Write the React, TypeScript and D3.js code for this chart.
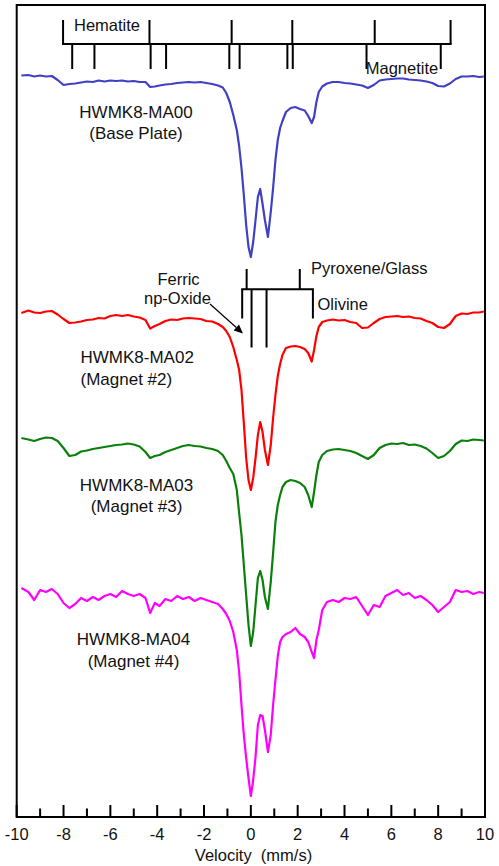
import React from "react";
import * as d3 from "d3";

// Velocity channels (mm/s)
const velocity = [
  -9.8, -9.5, -9.25, -9.0, -8.75, -8.5, -8.25, -8.0, -7.75, -7.5, -7.25, -7.0, -6.75, -6.5, -6.25, -6.0, -5.75, -5.5, -5.25, -5.0,
  -4.75, -4.5, -4.3, -4.1, -3.9, -3.65, -3.4, -3.15, -2.9, -2.65, -2.4, -2.15, -1.9, -1.65, -1.4, -1.2, -1.05, -0.9, -0.75, -0.6,
  -0.5, -0.4, -0.3, -0.2, -0.1, 0.0,
  0.1, 0.2, 0.3, 0.4, 0.5, 0.6, 0.73, 0.85, 0.95, 1.05, 1.15, 1.25,
  1.35, 1.5, 1.7, 1.9, 2.1, 2.3, 2.45, 2.6, 2.7, 2.8, 2.9, 3.05, 3.25, 3.5, 3.75, 4.0,
  4.25, 4.5, 4.75, 5.0, 5.25, 5.5, 5.75, 6.0, 6.25, 6.5, 6.75, 7.0, 7.25, 7.5, 7.75, 8.0, 8.25, 8.5, 8.75, 9.0, 9.25, 9.5, 9.75,
  9.95,
];

// Offset transmission (arbitrary units)
const ma00 = [
  741.5, 742, 740.5, 741.5, 740.5, 741, 737, 732, 733, 733.5, 734.5, 735.5, 735, 736.5, 735.5, 736.5, 736, 736.5, 735.5, 736,
  735, 735, 730, 730.5, 731.5, 732.5, 733, 734, 734.5, 735, 734.5, 735, 734, 733, 731.5, 729.5, 724, 715, 702, 687,
  671, 649, 622, 592, 570, 560,
  575, 597, 620, 628, 613, 597, 580, 605, 629, 657, 677, 689,
  696, 705, 709, 710, 708, 706.5, 701, 694, 700, 715, 725, 730.5, 733.5, 735, 735, 734,
  733.5, 732.5, 731.5, 729, 732, 736.5, 737.5, 738, 738.5, 738.5, 737.5, 737, 736.5, 735.5, 734, 731, 730.5, 733.5, 738, 740.5, 740.5, 741, 740,
  740.5,
];
const ma02 = [
  504, 506.5, 504.5, 504, 505.5, 506, 502.5, 498, 494, 494.5, 495.5, 497, 497.5, 499, 498.5, 501, 502, 501, 502, 500.5,
  499.5, 497, 488.5, 491, 493, 496, 497.5, 497, 498.5, 499, 498.5, 498, 496, 495.5, 493, 490, 486, 480, 470, 457,
  447, 427, 394, 359, 337, 327,
  339, 359, 382, 395, 385, 367, 352, 372, 399, 422, 441, 453,
  462, 469, 470.5, 471, 470, 468, 464, 455.5, 467, 481, 490, 495, 496.5, 497.5, 496.5, 497,
  495, 494, 489, 489.5, 494, 498, 500, 500.5, 501, 500, 500.5, 499, 498.5, 496, 494, 490, 489, 493, 501, 503.5, 503, 504.5, 504.5,
  505.5,
];
const ma03 = [
  379, 377.5, 376, 378, 379.5, 379, 376, 369, 361, 362, 365.5, 366.5, 368, 369, 370, 371, 372, 372.5, 373.5, 372.5,
  370.5, 365, 359, 361, 362, 365, 367, 369, 371, 372, 371, 370.5, 369, 368, 366, 362, 356, 349, 343, 327,
  304, 282, 252, 222, 192, 171,
  185, 212, 239, 246, 237, 220, 208, 235, 264, 295, 312, 322,
  330, 335, 337, 336, 334, 330, 322, 310, 325, 342, 355, 362, 366, 367.5, 368, 367,
  366, 364, 361, 358, 362, 369, 372, 373.5, 373, 374, 372, 372.5, 371, 368.5, 364, 359, 361, 366, 373, 376.5, 376, 377.5, 377,
  376.5,
];
const ma04 = [
  229, 225, 217, 227, 225, 228, 223, 214, 209, 213, 219, 216, 220, 217, 221, 223, 220, 226, 223, 221,
  223, 219, 204, 214, 211, 218, 216, 221, 218, 220, 216, 219, 217, 215, 213, 208, 203, 196, 185, 167,
  145, 112, 82, 59, 39, 21,
  37, 60, 92, 102, 101, 87, 65, 82, 112, 137, 161, 175,
  180, 183, 185, 189, 183, 180, 175, 165, 159, 177, 187, 207, 215, 217, 215, 219,
  218, 220, 211, 202, 212, 210, 221, 224, 227, 222, 224, 219, 221, 217, 212, 205, 210, 215, 227, 225, 226, 223, 225,
  224,
];

// Stick diagram line positions (mm/s)
const hematiteLines = [-8.02, -4.33, -0.82, 1.77, 5.29, 8.53];
const magnetiteLines = [-7.63, -6.68, -4.28, -3.62, -0.92, -0.48, 1.56, 1.79, 4.94, 8.11];
const pyroxeneLines = [-0.18, 2.09];
const olivineLines = [-0.37, 2.65];
const ferricLines = [0.03, 0.67];

const xTicksMajor = [-10, -8, -6, -4, -2, 0, 2, 4, 6, 8, 10];
const xTicksMinor = [-9, -7, -5, -3, -1, 1, 3, 5, 7, 9];

const spectra = [
  { name: "MA00", values: ma00, color: "#4040c4" },
  { name: "MA02", values: ma02, color: "#ff0000" },
  { name: "MA03", values: ma03, color: "#0a800a" },
  { name: "MA04", values: ma04, color: "#ff00ff" },
];

const W = 499;
const H = 866;
const L = 16.7;
const R = 485;
const T = 5;
const B = 817;

export default function App() {
  const x = d3.scaleLinear().domain([-10, 10]).range([L, R]);
  const y = d3.scaleLinear().domain([0, 812]).range([B, T]);
  const font = "'Liberation Sans', Arial, sans-serif";

  const mkLine = (vals: number[]) =>
    d3
      .line<number>()
      .x((_, i) => x(velocity[i]))
      .y((d) => y(d))
      .curve(d3.curveLinear)(vals.slice(0, velocity.length)) || "";

  const topBarY = 44;
  const bottomBarY = 289.3;

  // arrow
  const ax1 = 210, ay1 = 304, ax2 = 243, ay2 = 333.5;
  const ang = Math.atan2(ay2 - ay1, ax2 - ax1);
  const hl = 9, hw = 4;
  const bx = ax2 - hl * Math.cos(ang), by = ay2 - hl * Math.sin(ang);
  const head = `${ax2},${ay2} ${bx + hw * Math.sin(ang)},${by - hw * Math.cos(ang)} ${bx - hw * Math.sin(ang)},${by + hw * Math.cos(ang)}`;

  const txt = { fontFamily: font, fontSize: 16.5, fill: "#111" } as const;
  const lab = { fontFamily: font, fontSize: 17, fill: "#111" } as const;

  return (
    <svg width={W} height={H} style={{ position: "absolute", left: 0, top: 0, background: "#fff" }}>
      <rect x={0} y={0} width={W} height={H} fill="#fff" />
      {spectra.map((s) => (
        <path key={s.name} d={mkLine(s.values)} fill="none" stroke={s.color} strokeWidth={2.2} strokeLinejoin="round" />
      ))}
      <rect x={L} y={T} width={R - L} height={B - T} fill="none" stroke="#000" strokeWidth={2} />
      {xTicksMajor.map((t) => (
        <line key={"M" + t} x1={x(t)} x2={x(t)} y1={B} y2={B - 12} stroke="#000" strokeWidth={2} />
      ))}
      {xTicksMinor.map((t) => (
        <line key={"m" + t} x1={x(t)} x2={x(t)} y1={B} y2={B - 8.5} stroke="#000" strokeWidth={2} />
      ))}
      {xTicksMajor.map((t) => (
        <text key={"L" + t} x={x(t)} y={839.5} textAnchor="middle" {...txt}>
          {t}
        </text>
      ))}
      <text x={253.5} y={860.5} textAnchor="middle" {...txt}>
        Velocity{"\u00a0\u00a0"}(mm/s)
      </text>

      <line x1={x(d3.min(hematiteLines)!) - 1} x2={x(d3.max(hematiteLines)!) + 1} y1={topBarY} y2={topBarY} stroke="#000" strokeWidth={2} />
      {hematiteLines.map((v) => (
        <line key={"h" + v} x1={x(v)} x2={x(v)} y1={topBarY} y2={20} stroke="#000" strokeWidth={2} />
      ))}
      {magnetiteLines.map((v) => (
        <line key={"g" + v} x1={x(v)} x2={x(v)} y1={topBarY} y2={69} stroke="#000" strokeWidth={2} />
      ))}
      <text x={107} y={31} textAnchor="middle" {...txt}>Hematite</text>
      <text x={402} y={73.5} textAnchor="middle" {...txt}>Magnetite</text>

      <line x1={x(d3.min(olivineLines)!) - 1} x2={x(d3.max(olivineLines)!) + 1} y1={bottomBarY} y2={bottomBarY} stroke="#000" strokeWidth={2} />
      {pyroxeneLines.map((v) => (
        <line key={"p" + v} x1={x(v)} x2={x(v)} y1={bottomBarY} y2={269} stroke="#000" strokeWidth={2} />
      ))}
      {olivineLines.map((v) => (
        <line key={"o" + v} x1={x(v)} x2={x(v)} y1={bottomBarY} y2={318.5} stroke="#000" strokeWidth={2} />
      ))}
      {ferricLines.map((v) => (
        <line key={"f" + v} x1={x(v)} x2={x(v)} y1={bottomBarY} y2={347.5} stroke="#000" strokeWidth={2} />
      ))}
      <text x={311} y={274} {...txt}>Pyroxene/Glass</text>
      <text x={317.5} y={310} {...txt}>Olivine</text>
      <text x={178.5} y={284.5} textAnchor="middle" {...txt}>Ferric</text>
      <text x={177.5} y={303.5} textAnchor="middle" {...txt}>np-Oxide</text>
      <line x1={ax1} y1={ay1} x2={bx} y2={by} stroke="#000" strokeWidth={1.2} />
      <polygon points={head} fill="#000" />

      <text x={136} y={117.5} textAnchor="middle" {...lab}>HWMK8-MA00</text>
      <text x={136} y={138.5} textAnchor="middle" {...lab}>(Base Plate)</text>
      <text x={80.5} y={362.5} {...lab}>HWMK8-MA02</text>
      <text x={80.5} y={384.5} {...lab}>(Magnet #2)</text>
      <text x={136.5} y={491} textAnchor="middle" {...lab}>HWMK8-MA03</text>
      <text x={136.5} y={512} textAnchor="middle" {...lab}>(Magnet #3)</text>
      <text x={133.5} y={645} textAnchor="middle" {...lab}>HWMK8-MA04</text>
      <text x={133.5} y={666.5} textAnchor="middle" {...lab}>(Magnet #4)</text>
    </svg>
  );
}
